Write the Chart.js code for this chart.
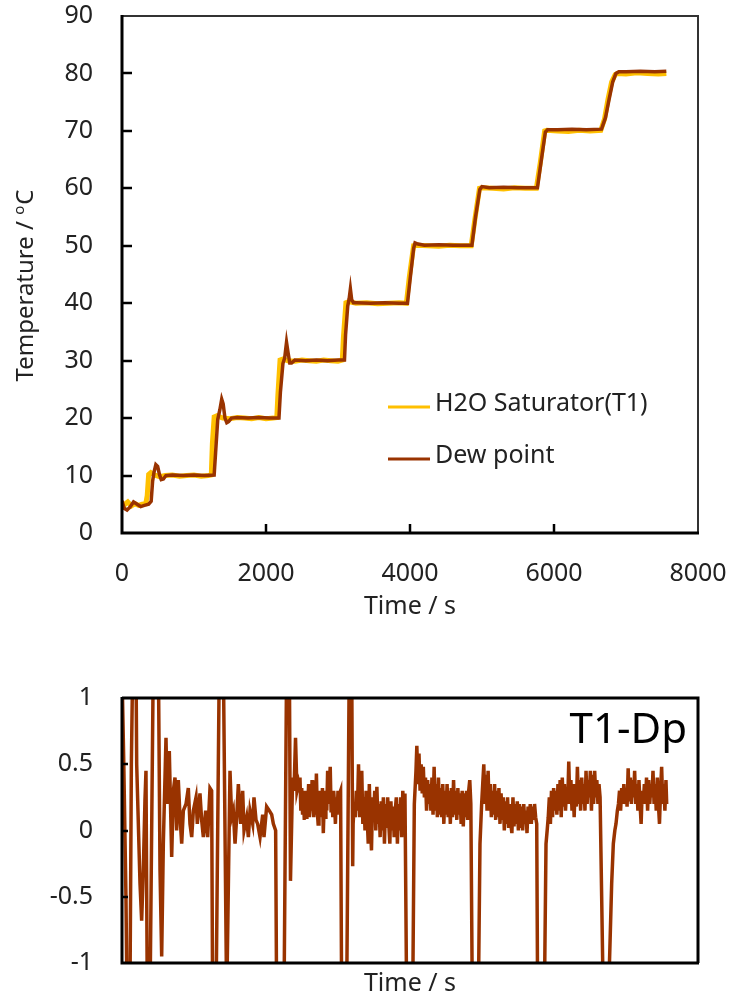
<!DOCTYPE html>
<html>
<head>
<meta charset="utf-8">
<script src="https://cdn.jsdelivr.net/npm/chart.js@4.4.1/dist/chart.umd.min.js"></script>
<style>
    html, body { margin: 0; padding: 0; background: #fff; }
    #top { position: absolute; left: 0; top: 0; width: 730px; height: 630px; }
    #bottom { position: absolute; left: 0; top: 630px; width: 730px; height: 369px; }
</style>
</head>
<body>
<div id="top"><canvas id="tempChart"></canvas></div>
<div id="bottom"><canvas id="diffChart"></canvas></div>
<script>
// H2O saturator temperature (T1)
const satTime = [0, 40, 80, 130, 180, 230, 280, 330, 350, 370, 400, 450, 520, 600, 700, 800, 900, 1000, 1100, 1200, 1240,
    1255, 1280, 1320, 1400, 1500, 1600, 1700, 1800, 1900, 2000, 2100, 2150,
    2165, 2195, 2240, 2300, 2400, 2500, 2600, 2700, 2800, 2900, 3000, 3060,
    3075, 3110, 3150, 3250, 3400, 3550, 3700, 3850, 3950,
    3990, 4050, 4100, 4250, 4400, 4550, 4700, 4850,
    4900, 4965, 5000, 5150, 5300, 5450, 5600, 5755,
    5810, 5870, 5900, 6050, 6200, 6350, 6500, 6650,
    6700, 6750, 6800, 6850, 6880, 7000, 7150, 7300, 7450, 7560];
const satTemp = [4.2, 5.0, 5.4, 4.7, 5.1, 4.8, 5.0, 5.1, 6.5, 10.2, 10.5, 10.1, 9.8, 10.0, 10.1, 9.9, 10.0, 10.1, 9.9, 10.0, 10.1,
    15.5, 20.2, 20.4, 20.0, 19.9, 20.1, 20.0, 19.9, 20.1, 19.9, 20.0, 20.1,
    24.0, 30.1, 30.3, 30.0, 29.9, 30.1, 30.0, 29.9, 30.1, 30.0, 29.9, 30.1,
    34.0, 40.1, 40.3, 40.0, 40.1, 39.9, 40.0, 40.1, 40.0,
    44.5, 50.0, 50.1, 50.0, 49.9, 50.1, 50.0, 50.0,
    54.5, 60.0, 60.1, 60.0, 59.9, 60.1, 60.0, 60.0,
    64.5, 70.0, 70.1, 70.0, 69.9, 70.1, 70.0, 70.1,
    72.0, 75.5, 78.5, 79.8, 80.0, 79.9, 80.1, 80.0, 79.9, 80.0];

// dew point
const dewTime = [0, 30, 70, 110, 160, 210, 260, 310, 370, 405, 425, 445, 470, 495, 520, 545, 575, 610, 700, 850, 1000, 1150, 1280,
    1300, 1330, 1360, 1385, 1405, 1430, 1455, 1480, 1520, 1600, 1750, 1900, 2050, 2180,
    2200, 2235, 2260, 2285, 2305, 2330, 2355, 2400, 2550, 2700, 2850, 3000, 3090,
    3105, 3135, 3155, 3172, 3190, 3215, 3260, 3450, 3650, 3850, 3965,
    4000, 4050, 4070, 4110, 4200, 4400, 4600, 4860,
    4910, 4970, 5000, 5100, 5300, 5500, 5770,
    5825, 5880, 5910, 6050, 6250, 6450, 6660,
    6715, 6765, 6815, 6860, 6900, 7000, 7200, 7400, 7560];
const dewTemp = [5.6, 4.3, 4.0, 4.5, 5.4, 5.0, 4.6, 4.8, 5.0, 5.5, 9.0, 10.6, 11.9, 11.6, 10.2, 9.3, 9.4, 10.0, 10.1, 10.0, 10.1, 10.0, 10.1,
    14.0, 19.8, 21.5, 23.3, 22.5, 20.0, 19.2, 19.4, 20.0, 20.1, 20.0, 20.1, 20.0, 20.0,
    24.5, 29.5, 30.5, 33.2, 31.5, 29.6, 29.6, 30.1, 30.0, 30.1, 30.0, 30.1, 30.1,
    34.5, 39.5, 40.8, 42.5, 40.6, 40.1, 40.1, 40.0, 40.1, 40.0, 40.0,
    44.0, 49.5, 50.5, 50.3, 50.1, 50.2, 50.1, 50.1,
    55.0, 59.8, 60.3, 60.1, 60.2, 60.1, 60.1,
    65.0, 69.8, 70.2, 70.2, 70.3, 70.2, 70.3,
    72.3, 75.5, 78.5, 80.0, 80.3, 80.3, 80.4, 80.3, 80.4];

// T1 - dew point difference (values past +-1 get cut by the axis)
const diffTime = [
    0, 25, 55, 70, 110, 130, 150, 194, 204, 250, 273, 296, 319, 333, 352, 389, 435, 505, 528, 551, 574, 611, 630, 657,
    690, 713, 736, 759, 782, 806, 829, 852, 889, 921, 944, 968, 991, 1028, 1046, 1083, 1106, 1130, 1162, 1190, 1222, 1245,
    1259, 1306, 1352, 1407, 1454, 1500, 1523, 1546, 1570, 1593, 1616, 1648, 1676, 1695, 1731, 1755, 1778, 1815, 1833, 1861,
    1884, 1917, 1954, 1972, 2009, 2046, 2079, 2102, 2134, 2148, 2250, 2287, 2324, 2340, 2370, 2389, 2410, 2430, 2449,
    2460, 2472, 2484, 2496, 2508, 2520, 2532, 2544, 2556, 2568,
    2580, 2592, 2604, 2616, 2628, 2640, 2652, 2664, 2676, 2688,
    2700, 2712, 2724, 2736, 2748, 2760, 2772, 2784, 2796, 2808,
    2820, 2832, 2844, 2856, 2868, 2880, 2892, 2904, 2916, 2928,
    2940, 2952, 2964, 2976, 2988, 3000, 3012, 3024, 3036,
    3051, 3120, 3157, 3190, 3204,
    3210, 3225, 3240, 3255, 3270, 3285, 3300, 3315, 3330, 3345,
    3360, 3375, 3390, 3405, 3420, 3435, 3450, 3465, 3480, 3495,
    3510, 3525, 3540, 3555, 3570, 3585, 3600, 3615, 3630, 3645,
    3660, 3675, 3690, 3705, 3720, 3735, 3750, 3765, 3780, 3795,
    3810, 3825, 3840, 3855, 3870, 3885, 3900, 3915, 3930,
    3954, 4037, 4060, 4083,
    4095, 4110, 4125, 4140, 4155, 4170, 4185, 4200, 4215, 4230,
    4245, 4260, 4275, 4290, 4305, 4320, 4335, 4350, 4365, 4380,
    4395, 4410, 4425, 4440, 4455, 4470, 4485, 4500, 4515, 4530,
    4545, 4560, 4575, 4590, 4605, 4620, 4635, 4650, 4665, 4680,
    4695, 4710, 4725, 4740, 4755, 4770, 4785, 4800, 4815, 4830,
    4845,
    4866, 4949, 4972, 4995, 5010,
    5025, 5040, 5055, 5070, 5085, 5100, 5115, 5130, 5145, 5160,
    5175, 5190, 5205, 5220, 5235, 5250, 5265, 5280, 5295, 5310,
    5325, 5340, 5355, 5370, 5385, 5400, 5415, 5430, 5445, 5460,
    5475, 5490, 5505, 5520, 5535, 5550, 5565, 5580, 5595, 5610,
    5625, 5640, 5655, 5670, 5685, 5700, 5715, 5730, 5745,
    5760, 5773, 5866, 5889, 5905, 5920,
    5935, 5950, 5965, 5980, 5995, 6010, 6025, 6040, 6055, 6070,
    6085, 6100, 6115, 6130, 6145, 6160, 6175, 6190, 6205, 6220,
    6235, 6250, 6265, 6280, 6295, 6310, 6325, 6340, 6355, 6370,
    6385, 6400, 6415, 6430, 6445, 6460, 6475, 6490, 6505, 6520,
    6535, 6550, 6565, 6580, 6595, 6610, 6625, 6640,
    6662, 6685, 6755, 6778, 6801, 6824, 6845, 6861, 6880,
    6895, 6910, 6925, 6940, 6955, 6970, 6985, 7000, 7015, 7030,
    7045, 7060, 7075, 7090, 7105, 7120, 7135, 7150, 7165, 7180,
    7195, 7210, 7225, 7240, 7255, 7270, 7285, 7300, 7315, 7330,
    7345, 7360, 7375, 7390, 7405, 7420, 7435, 7450, 7465, 7480,
    7495, 7510, 7525, 7540, 7555, 7565];
const diffValue = [
    1.2, 0.5, -0.5, -1.3, -1.3, 0.5, 1.3, 1.3, 0.5, -0.4, -0.68, -0.3, 0.23, 0.45, -1.3, -1.3, 1.3, 1.3, -0.3, -0.95, -0.1, 0.7, 0.2, 0.6,
    -0.2, 0.3, 0.4, 0.0, 0.38, 0.1, -0.1, 0.15, 0.2, 0.32, 0.05, -0.05, 0.15, 0.25, 0.05, 0.28, 0.08, -0.05, 0.15, -0.05, 0.32, 0.3,
    -1.3, -1.3, 1.3, 1.3, -1.3, 0.45, 0.1, 0.15, -0.1, 0.1, 0.35, 0.05, 0.3, 0.0, 0.1, -0.05, 0.15, 0.05, 0.25, 0.08,
    0.05, -0.05, 0.12, -0.05, 0.18, 0.15, 0.12, 0.05, 0.0, -1.3, -1.3, 1.3, 1.3, -0.38, 0.4, 0.3, 0.7, 0.3, 0.35,
    0.3, 0.4, 0.15, 0.32, 0.12, 0.25, 0.08, 0.3, 0.1, 0.28,
    0.18, 0.35, 0.1, 0.25, 0.15, 0.38, 0.2, 0.1, 0.3, 0.12,
    0.43, 0.15, 0.05, 0.3, 0.1, 0.25, 0.12, 0.32, -0.02, 0.2,
    0.1, 0.3, 0.15, 0.45, 0.2, 0.35, 0.48, 0.15, 0.25, 0.1,
    0.3, 0.2, 0.05, 0.25, 0.12, 0.3, 0.15, 0.28, 0.3,
    -1.3, -1.3, 1.3, 1.3, -0.27,
    0.05, 0.2, 0.1, 0.3, 0.15, 0.5, 0.1, 0.3, 0.45, 0.05,
    0.25, 0.0, 0.3, 0.1, -0.1, 0.35, 0.05, -0.15, 0.25, 0.1,
    0.3, 0.0, 0.33, 0.05, 0.2, -0.05, 0.22, 0.0, 0.25, -0.1,
    0.2, 0.02, 0.25, 0.05, -0.1, 0.22, 0.0, 0.18, -0.05, 0.15,
    0.25, -0.1, 0.2, 0.0, 0.25, -0.05, 0.3, 0.1, 0.28,
    -1.3, -1.3, 0.2, 0.45,
    0.64, 0.35, 0.58, 0.3, 0.5, 0.28, 0.48, 0.25, 0.4, 0.15,
    0.38, 0.2, 0.35, 0.15, 0.4, 0.12, 0.48, 0.15, 0.35, 0.1,
    0.4, 0.12, 0.32, 0.1, 0.35, 0.05, 0.3, 0.12, 0.35, 0.1,
    0.3, 0.05, 0.32, 0.1, 0.38, 0.12, 0.3, 0.08, 0.32, 0.12,
    0.28, 0.05, 0.3, 0.03, 0.28, 0.1, 0.3, 0.08, 0.3, 0.38,
    0.2,
    -1.3, -1.3, -0.1, 0.2, 0.35,
    0.5, 0.2, 0.42, 0.15, 0.45, 0.15, 0.35, 0.1, 0.3, 0.12,
    0.35, 0.08, 0.3, 0.1, 0.32, 0.05, 0.28, 0.08, 0.25, 0.0,
    0.22, 0.05, 0.25, 0.02, 0.2, 0.05, -0.02, 0.25, 0.03, 0.2,
    0.05, 0.22, 0.0, 0.2, 0.02, 0.18, 0.0, 0.2, 0.05, 0.15,
    -0.02, 0.18, 0.05, 0.2, 0.05, 0.18, 0.08, 0.2, 0.1,
    0.05, -1.3, -1.3, -0.1, 0.0, 0.1,
    0.25, 0.05, 0.3, 0.1, 0.32, 0.15, 0.3, 0.12, 0.35, 0.15,
    0.38, 0.1, 0.4, 0.18, 0.35, 0.15, 0.32, 0.2, 0.52, 0.2,
    0.38, 0.15, 0.35, 0.1, 0.35, 0.18, 0.48, 0.2, 0.38, 0.15,
    0.4, 0.2, 0.35, 0.15, 0.45, 0.2, 0.38, 0.25, 0.45, 0.15,
    0.42, 0.2, 0.45, 0.25, 0.38, 0.2, 0.35, 0.25,
    -0.5, -1.3, -1.3, -0.85, -0.4, -0.1, 0.0, 0.05, 0.15,
    0.2, 0.3, 0.15, 0.32, 0.2, 0.35, 0.2, 0.3, 0.18, 0.47,
    0.22, 0.4, 0.2, 0.38, 0.25, 0.45, 0.2, 0.35, 0.15, 0.38,
    0.2, 0.05, 0.3, 0.2, 0.35, 0.2, 0.4, 0.15, 0.38, 0.2,
    0.35, 0.25, 0.45, 0.2, 0.35, 0.15, 0.4, 0.2, 0.05, 0.3,
    0.48, 0.2, 0.35, 0.15, 0.38, 0.2];

const tempTicks = [0, 10, 20, 30, 40, 50, 60, 70, 80, 90];
const timeTicks = [0, 2000, 4000, 6000, 8000];
const diffTicks = [-1, -0.5, 0, 0.5, 1];

const YELLOW = '#FFC000';
const BROWN = '#993300';
const TEXT = '#222';
const FONT = "'Noto Sans', sans-serif";

Chart.defaults.font.family = FONT;
Chart.defaults.font.size = 25;
Chart.defaults.color = TEXT;

const toPoints = (xs, ys) => xs.map((x, i) => ({ x: x, y: ys[i] }));
const plain = v => String(v);

// box round the plot area plus the inward tick marks
const framePlugin = {
    id: 'frame',
    afterDatasetsDraw(chart, args, opts) {
        const { ctx, chartArea: a, scales } = chart;
        ctx.save();
        ctx.strokeStyle = '#000';
        ctx.lineWidth = 2.5;
        (opts.yTicks || []).forEach(v => {
            const y = Math.round(scales.y.getPixelForValue(v));
            ctx.beginPath();
            ctx.moveTo(a.left, y);
            ctx.lineTo(a.left + opts.yLen, y);
            ctx.stroke();
        });
        (opts.xTicks || []).forEach(v => {
            const x = Math.round(scales.x.getPixelForValue(v));
            ctx.beginPath();
            ctx.moveTo(x, a.bottom);
            ctx.lineTo(x, a.bottom - opts.xLen);
            ctx.stroke();
        });
        // top + right
        ctx.strokeStyle = opts.thinColor;
        ctx.lineWidth = opts.thinWidth;
        ctx.beginPath();
        ctx.moveTo(a.left, a.top);
        ctx.lineTo(a.right, a.top);
        ctx.lineTo(a.right, a.bottom);
        ctx.stroke();
        // left + bottom
        ctx.strokeStyle = '#000';
        ctx.lineWidth = 3;
        ctx.beginPath();
        ctx.moveTo(a.left, a.top - 1);
        ctx.lineTo(a.left, a.bottom);
        ctx.lineTo(a.right + 1, a.bottom);
        ctx.stroke();
        ctx.restore();
    }
};

const tempExtras = {
    id: 'tempExtras',
    afterDraw(chart) {
        const ctx = chart.ctx;
        ctx.save();
        ctx.fillStyle = TEXT;

        // y title with superscript o
        ctx.translate(33, 286);
        ctx.rotate(-Math.PI / 2);
        const main = "24px " + FONT, sup = "15px " + FONT;
        const p1 = 'Temperature / ', p2 = 'o', p3 = 'C';
        ctx.font = main;
        const w1 = ctx.measureText(p1).width, w3 = ctx.measureText(p3).width;
        ctx.font = sup;
        const w2 = ctx.measureText(p2).width;
        let x = -(w1 + w2 + w3) / 2;
        ctx.textBaseline = 'alphabetic';
        ctx.font = main; ctx.fillText(p1, x, 0); x += w1;
        ctx.font = sup; ctx.fillText(p2, x, -9); x += w2 + 1;
        ctx.font = main; ctx.fillText(p3, x, 0);
        ctx.restore();

        // legend
        ctx.save();
        ctx.font = "25px " + FONT;
        ctx.textBaseline = 'middle';
        ctx.fillStyle = TEXT;
        chart.data.datasets.forEach((ds, i) => {
            const y = 407 + i * 52;
            ctx.strokeStyle = ds.borderColor;
            ctx.lineWidth = 3;
            ctx.beginPath();
            ctx.moveTo(388, y);
            ctx.lineTo(430, y);
            ctx.stroke();
            ctx.fillText(ds.label, 435, y - 3);
        });
        ctx.restore();
    }
};

const diffExtras = {
    id: 'diffExtras',
    afterDraw(chart) {
        const { ctx, chartArea: a } = chart;
        ctx.save();
        ctx.font = "42px " + FONT;
        ctx.fillStyle = '#000';
        ctx.textAlign = 'right';
        ctx.textBaseline = 'alphabetic';
        ctx.fillText('T1-Dp', a.right - 11, a.top + 45);
        ctx.restore();
    }
};

// tick labels sit away from the axis by the (hidden) tick length
const hiddenGrid = { display: false, drawTicks: true, tickLength: 29 };

new Chart(document.getElementById('tempChart'), {
    type: 'line',
    data: {
        datasets: [{
            label: 'H2O Saturator(T1)',
            data: toPoints(satTime, satTemp),
            borderColor: YELLOW,
            borderWidth: 5,
            pointRadius: 0,
            tension: 0,
            order: 2
        }, {
            label: 'Dew point',
            data: toPoints(dewTime, dewTemp),
            borderColor: BROWN,
            borderWidth: 3.5,
            pointRadius: 0,
            tension: 0,
            order: 1
        }]
    },
    options: {
        responsive: true,
        maintainAspectRatio: false,
        animation: false,
        layout: { padding: { top: 16, right: 32, left: 0, bottom: 0 } },
        plugins: {
            legend: { display: false },
            tooltip: { enabled: false },
            frame: { yTicks: tempTicks.slice(1, -1), yLen: 10, xTicks: timeTicks.slice(1, -1), xLen: 9, thinColor: '#333', thinWidth: 2 }
        },
        scales: {
            x: {
                type: 'linear',
                min: 0,
                max: 8000,
                afterBuildTicks: s => { s.ticks = timeTicks.map(v => ({ value: v })); },
                afterFit: s => { s.height = 97; },
                grid: { display: false, drawTicks: true, tickLength: 26 },
                border: { display: false },
                ticks: { padding: 0, maxRotation: 0, callback: plain },
                title: { display: true, text: 'Time / s', padding: { top: 0, bottom: 8 } }
            },
            y: {
                min: 0,
                max: 90,
                afterBuildTicks: s => { s.ticks = tempTicks.map(v => ({ value: v })); },
                afterFit: s => { s.width = 122; },
                grid: hiddenGrid,
                border: { display: false },
                ticks: { padding: 0, callback: plain }
            }
        }
    },
    plugins: [framePlugin, tempExtras]
});

new Chart(document.getElementById('diffChart'), {
    type: 'line',
    data: {
        datasets: [{
            label: 'T1-Dp',
            data: toPoints(diffTime, diffValue),
            borderColor: BROWN,
            borderWidth: 3.5,
            pointRadius: 0,
            tension: 0
        }]
    },
    options: {
        responsive: true,
        maintainAspectRatio: false,
        animation: false,
        layout: { padding: { top: 68, right: 32, left: 0, bottom: 0 } },
        plugins: {
            legend: { display: false },
            tooltip: { enabled: false },
            frame: { yTicks: diffTicks.slice(1, -1), yLen: 6, xTicks: [], xLen: 0, thinColor: '#000', thinWidth: 3 }
        },
        scales: {
            x: {
                type: 'linear',
                min: 0,
                max: 8000,
                afterFit: s => { s.height = 36; },
                grid: { display: false, drawTicks: false },
                border: { display: false },
                ticks: { display: false },
                title: { display: true, text: 'Time / s', padding: { top: 0, bottom: 0 } }
            },
            y: {
                min: -1,
                max: 1,
                afterBuildTicks: s => { s.ticks = diffTicks.map(v => ({ value: v })); },
                afterFit: s => { s.width = 122; },
                grid: hiddenGrid,
                border: { display: false },
                ticks: { padding: 0, callback: plain }
            }
        }
    },
    plugins: [framePlugin, diffExtras]
});
</script>
</body>
</html>
